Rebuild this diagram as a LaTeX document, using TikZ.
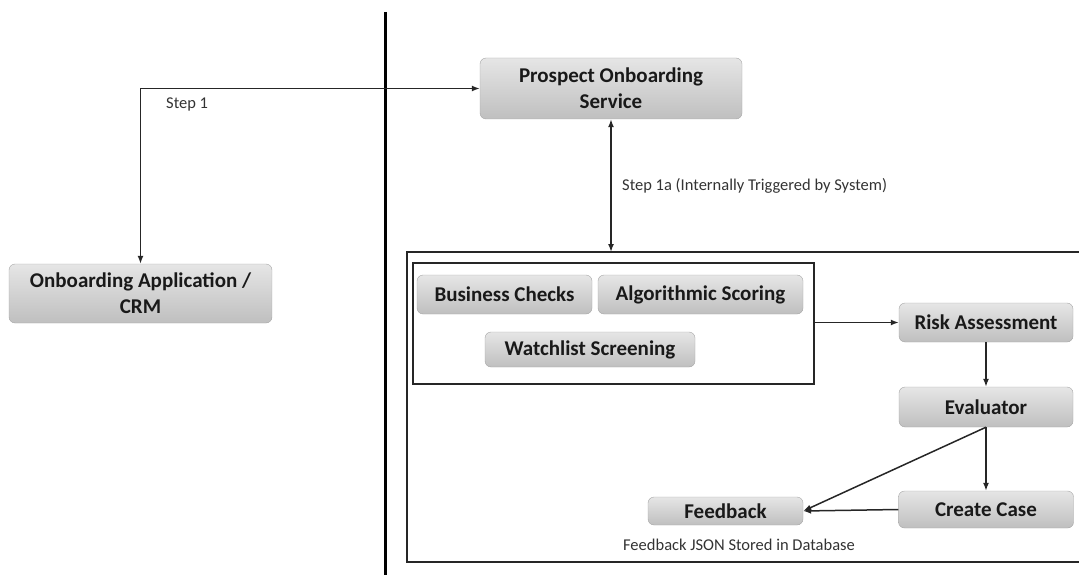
\documentclass[tikz,border=0pt]{standalone}
\usepackage{fontspec}
\setmainfont{Carlito}
\usetikzlibrary{arrows.meta}
\begin{document}
\begin{tikzpicture}[x=1pt,y=-1pt,
  box/.style={draw=black!35, rounded corners=6pt, top color=black!10, bottom color=black!25,
    font=\bfseries\fontsize{21}{26}\selectfont, text=black!90, align=center, inner sep=0pt},
  conn/.style={draw=black!85, line width=1.5pt, -{Latex[length=8pt,width=6pt]}},
  dconn/.style={draw=black!85, line width=1.5pt, {Latex[length=8pt,width=6pt]}-{Latex[length=8pt,width=6pt]}},
  lbl/.style={font=\fontsize{16.5}{19}\selectfont, text=black!80, inner sep=0pt},
  frame/.style={draw=black!85, line width=1.6pt}]
\useasboundingbox (0,0) rectangle (1079,575);
% separator
\draw[line width=3pt] (385,12) -- (385,575);
% outer frame (open on the right, cut by the picture edge)
\coordinate (otl) at (407,252);
\coordinate (otr) at (1079,252);
\coordinate (obl) at (407,562);
\coordinate (obr) at (1079,562);
\coordinate (otop) at (611,252);
\draw[frame] (otr) -- (otl) -- (obl) -- (obr);
% inner frame
\node[frame, minimum width=401pt, minimum height=121pt, inner sep=0pt] (inner) at (613.5,323.5) {};
% nodes
\node[box, minimum width=263pt, minimum height=59pt] (app) at (140.5,293.5) {Onboarding Application /\\CRM};
\node[box, minimum width=262pt, minimum height=61pt] (pos) at (611,88.5) {Prospect Onboarding\\Service};
\node[box, minimum width=175pt, minimum height=39pt] (bc) at (504.5,294.5) {Business Checks};
\node[box, minimum width=205pt, minimum height=39pt] (as) at (700.5,294.5) {Algorithmic Scoring};
\node[box, minimum width=210pt, minimum height=35pt] (ws) at (590,349.5) {Watchlist Screening};
\node[box, minimum width=174pt, minimum height=39pt] (ra) at (986,322.5) {Risk Assessment};
\node[box, minimum width=174pt, minimum height=40pt] (ev) at (986,407) {Evaluator};
\node[box, minimum width=175pt, minimum height=37pt] (cc) at (986,509.5) {Create Case};
\node[box, minimum width=155pt, minimum height=28pt] (fb) at (725.5,511) {Feedback};
% labels
\node[lbl, anchor=west] (s1) at (166,104) {Step 1};
\node[lbl, anchor=west] (s1a) at (622,186) {Step 1a (Internally Triggered by System)};
\node[lbl] (fj) at (739,545) {Feedback JSON Stored in Database};
% connectors
\draw[dconn] (app.north) |- (pos.west);
\draw[dconn] (pos.south) -- (otop);
\draw[conn] (inner.east |- ra.west) -- (ra.west);
\draw[conn] (ra.south) -- (ev.north);
\draw[conn] (ev.south) -- (cc.north);
\draw[conn] (ev.south) -- (fb.east);
\draw[conn] (cc.west) -- (fb.east);
\end{tikzpicture}
\end{document}
